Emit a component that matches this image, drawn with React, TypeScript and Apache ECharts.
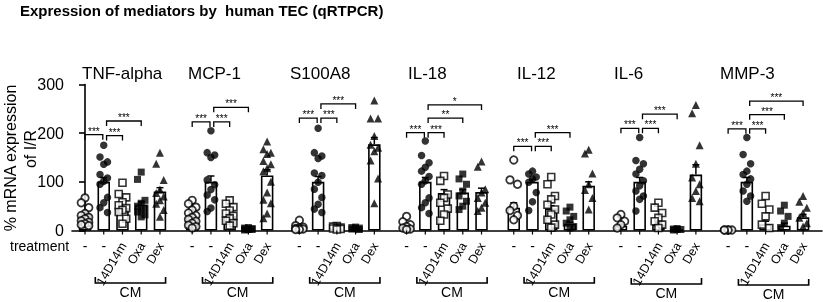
import React, { useEffect, useRef } from "react";
import * as echarts from "echarts";

// ---------- data ----------
const panels = ["TNF-alpha", "MCP-1", "S100A8", "IL-18", "IL-12", "IL-6", "MMP-3"];
const groupLabels = ["-", "-", "14D14m", "Oxa", "Dex"];
const yTickValues = [0, 100, 200, 300];

const meanTNF = [31, 100, 46, 53, 80];
const semTNF = [5, 9, 5, 6, 8];
const ptsTNF = [
  [67, 57, 47, 35, 31, 27, 24, 20, 17, 14, 12, 10],
  [175, 151, 141, 136, 115, 108, 101, 95, 68, 57, 47, 37],
  [98, 75, 68, 58, 52, 46, 42, 38, 24, 14],
  [120, 105, 62, 56, 50, 46, 42, 38, 32, 28],
  [160, 137, 104, 84, 77, 70, 62, 55, 42, 28],
];
const sigTNF = [[0, 1, 197, 3], [1, 2, 195, 3], [1, 3, 225, 3]];

const meanMCP1 = [30, 100, 30, 3, 113];
const semMCP1 = [4, 12, 4, 0.5, 12];
const ptsMCP1 = [
  [62, 55, 48, 42, 36, 31, 27, 23, 19, 15, 11, 8, 5],
  [205, 160, 155, 150, 104, 94, 84, 73, 63, 46, 39],
  [62, 55, 48, 41, 35, 30, 25, 20, 15, 10],
  [6, 5, 4, 3, 3, 2, 2, 1],
  [183, 167, 160, 157, 143, 136, 128, 122, 100, 78, 63, 56, 35, 25],
];
const sigMCP1 = [[0, 1, 223, 3], [1, 2, 223, 3], [1, 3, 253, 3]];

const meanS100A8 = [6, 100, 5, 4, 177];
const semS100A8 = [2, 11, 1, 0.5, 14];
const ptsS100A8 = [
  [21, 10, 7, 5, 4, 3, 2, 2],
  [210, 160, 153, 148, 118, 113, 99, 85, 68, 54, 44, 37],
  [9, 8, 6, 5, 4, 3, 2],
  [7, 6, 5, 4, 3, 2],
  [267, 230, 230, 194, 176, 170, 163, 144, 107, 56],
];
const sigS100A8 = [[0, 1, 231, 3], [1, 2, 231, 3], [1, 3, 260, 3]];

const meanIL18 = [8, 100, 77, 78, 79];
const semIL18 = [2, 9, 7, 6, 8];
const ptsIL18 = [
  [29, 18, 12, 8, 5, 3, 2],
  [184, 154, 139, 130, 122, 111, 102, 95, 67, 57, 47, 35],
  [112, 102, 74, 67, 57, 45, 33, 20],
  [116, 106, 95, 81, 71, 60, 50, 43],
  [142, 131, 85, 78, 67, 57, 47, 40],
];
const sigIL18 = [[0, 1, 201, 3], [1, 2, 201, 3], [1, 3, 231, 2], [1, 4, 258, 1]];

const meanIL12 = [47, 100, 45, 14, 92];
const semIL12 = [10, 5, 6, 3, 8];
const ptsIL12 = [
  [145, 104, 95, 50, 41, 31, 22],
  [122, 116, 110, 106, 99, 78, 59, 41],
  [110, 95, 71, 64, 53, 43, 33, 22, 12, 6],
  [48, 40, 29, 22, 15, 8, 5],
  [166, 158, 117, 95, 83, 67, 43],
];
const sigIL12 = [[0, 1, 173, 3], [1, 2, 173, 3], [1, 3, 201, 3]];

const meanIL6 = [10, 100, 12, 2, 115];
const semIL6 = [3, 9, 4, 0.5, 20];
const ptsIL6 = [
  [33, 26, 19, 12, 5],
  [191, 144, 137, 126, 116, 102, 92, 81, 71, 64, 40],
  [57, 47, 36, 26, 19, 12, 5],
  [4, 3, 2, 2, 1],
  [258, 241, 175, 137, 109, 95, 81, 67, 60],
];
const sigIL6 = [[0, 1, 210, 3], [1, 2, 210, 3], [1, 3, 239, 3]];

const meanMMP3 = [1, 100, 13, 10, 27];
const semMMP3 = [0.3, 9, 6, 5, 6];
const ptsMMP3 = [
  [1, 1, 1, 1, 1],
  [191, 156, 137, 122, 115, 106, 95, 81, 71, 60],
  [71, 55, 43, 29, 12, 5],
  [52, 40, 29, 15, 6],
  [71, 59, 47, 36, 26, 15, 8],
];
const sigMMP3 = [[0, 1, 209, 3], [1, 2, 209, 3], [1, 3, 238, 3], [1, 4, 266, 3]];

const panelMeans = [meanTNF, meanMCP1, meanS100A8, meanIL18, meanIL12, meanIL6, meanMMP3];
const panelSems = [semTNF, semMCP1, semS100A8, semIL18, semIL12, semIL6, semMMP3];
const panelPoints = [ptsTNF, ptsMCP1, ptsS100A8, ptsIL18, ptsIL12, ptsIL6, ptsMMP3];
const panelSigs = [sigTNF, sigMCP1, sigS100A8, sigIL18, sigIL12, sigIL6, sigMMP3];

// ---------- layout ----------
const FONT = "'Liberation Sans', Arial, Helvetica, sans-serif";
const PANEL_STEP = 5.72;
const X_MIN = -0.694;
const X_MAX = 39.33;
const JITTER = [0, -0.2, 0.2];
const TITLE_X = [82, 188, 290, 408, 517, 614, 720];
const CM_DROP = [0, 0, 0, 0, 0, 1, 2];
const xPos = (p: number, i: number) => p * PANEL_STEP + i;

const markerStyles: any[] = [
  { symbol: "circle", symbolSize: 7.5, itemStyle: { color: "#fff", borderColor: "#000", borderWidth: 1.8 } },
  { symbol: "circle", symbolSize: 7.5, itemStyle: { color: "#000" } },
  { symbol: "rect", symbolSize: 7, itemStyle: { color: "#fff", borderColor: "#000", borderWidth: 1.6 } },
  { symbol: "rect", symbolSize: 7, itemStyle: { color: "#000" } },
  { symbol: "triangle", symbolSize: 8, itemStyle: { color: "#000" } },
];

export default function App() {
  const ref = useRef<HTMLDivElement>(null);

  useEffect(() => {
    const chart = echarts.init(ref.current!, null, { renderer: "svg" });

    const barData: number[][] = [];
    const errData: number[][] = [];
    const labelData: number[][] = [];
    panels.forEach((_, p) => {
      for (let i = 0; i < 5; i++) {
        const x = xPos(p, i);
        barData.push([x, panelMeans[p][i]]);
        errData.push([x, panelMeans[p][i], panelMeans[p][i] + panelSems[p][i]]);
        labelData.push([x, 0]);
      }
    });

    const sigData: number[][] = [];
    const sigText: string[] = [];
    panels.forEach((_, p) => {
      panelSigs[p].forEach(([a, b, y, n]) => {
        const x1 = xPos(p, a) + (a === 0 ? 0 : 0.15);
        const x2 = xPos(p, b) - (b === 1 ? 0.05 : 0);
        sigData.push([x1, x2, y]);
        sigText.push("*".repeat(n));
      });
    });

    const cmData = panels.map((_, p) => [xPos(p, 1) - 0.45, xPos(p, 4) + 0.3]);

    const scatterSeries = markerStyles.map((ms, g) => ({
      type: "scatter",
      z: 4,
      silent: true,
      symbol: ms.symbol,
      symbolSize: ms.symbolSize,
      itemStyle: ms.itemStyle,
      data: panels.flatMap((_, p) =>
        panelPoints[p][g].map((v, k) => [xPos(p, g) + JITTER[k % JITTER.length], v])
      ),
    }));

    const option: any = {
      animation: false,
      textStyle: { fontFamily: FONT },
      grid: { left: 72, right: 1, top: 84.5, bottom: 71.5, containLabel: false },
      xAxis: {
        type: "value",
        min: X_MIN,
        max: X_MAX,
        axisLine: { show: true, onZero: true, lineStyle: { color: "#000", width: 1.6 } },
        axisTick: { show: false },
        axisLabel: { show: false },
        splitLine: { show: false },
      },
      yAxis: {
        type: "value",
        min: yTickValues[0],
        max: yTickValues[yTickValues.length - 1],
        interval: 100,
        axisLine: { show: true, lineStyle: { color: "#000", width: 1.6 } },
        axisTick: { show: true, length: 6, lineStyle: { color: "#000", width: 1.6 } },
        axisLabel: { color: "#000", fontSize: 16, fontFamily: FONT, margin: 8 },
        splitLine: { show: false },
      },
      series: [
        {
          type: "bar",
          z: 2,
          silent: true,
          barWidth: 12.5,
          data: barData,
          itemStyle: { color: "#fff", borderColor: "#000", borderWidth: 1.6 },
        },
        {
          type: "custom",
          z: 3,
          silent: true,
          data: errData,
          renderItem: (params: any, api: any) => {
            const x = api.value(0);
            const base = api.coord([x, api.value(1)]);
            const top = api.coord([x, api.value(2)]);
            return {
              type: "group",
              children: [
                { type: "line", shape: { x1: top[0], y1: base[1], x2: top[0], y2: top[1] }, style: { stroke: "#000", lineWidth: 1.5 } },
                { type: "line", shape: { x1: top[0] - 3.5, y1: top[1], x2: top[0] + 3.5, y2: top[1] }, style: { stroke: "#000", lineWidth: 1.5 } },
              ],
            };
          },
        },
        ...scatterSeries,
        {
          type: "custom",
          z: 5,
          silent: true,
          data: sigData,
          renderItem: (params: any, api: any) => {
            const p1 = api.coord([api.value(0), api.value(2)]);
            const p2 = api.coord([api.value(1), api.value(2)]);
            return {
              type: "group",
              children: [
                {
                  type: "polyline",
                  shape: { points: [[p1[0], p1[1] + 5], [p1[0], p1[1]], [p2[0], p1[1]], [p2[0], p1[1] + 5]] },
                  style: { stroke: "#000", lineWidth: 1.3, fill: null },
                },
                {
                  type: "text",
                  x: (p1[0] + p2[0]) / 2,
                  y: p1[1] + 1.5,
                  style: { text: sigText[params.dataIndex], fontSize: 10, fontFamily: FONT, fill: "#000", align: "center", verticalAlign: "bottom" },
                },
              ],
            };
          },
        },
        {
          type: "custom",
          z: 5,
          silent: true,
          data: labelData,
          renderItem: (params: any, api: any) => {
            const p = api.coord([api.value(0), 0]);
            const gi = params.dataIndex % 5;
            const children: any[] = [
              { type: "line", shape: { x1: p[0], y1: p[1], x2: p[0], y2: p[1] + 4 }, style: { stroke: "#000", lineWidth: 1.2 } },
            ];
            if (gi < 2) {
              children.push({
                type: "text",
                x: p[0],
                y: p[1] + 15,
                style: { text: groupLabels[gi], fontSize: 14, fontFamily: FONT, fill: "#000", align: "center", verticalAlign: "middle" },
              });
            } else {
              children.push({
                type: "text",
                x: p[0] + 1,
                y: p[1] + 13,
                rotation: Math.PI / 3,
                style: { text: groupLabels[gi], fontSize: 12.5, fontFamily: FONT, fill: "#000", align: "right", verticalAlign: "middle" },
              });
            }
            return { type: "group", children };
          },
        },
        {
          type: "custom",
          z: 5,
          silent: true,
          data: cmData,
          renderItem: (params: any, api: any) => {
            const p1 = api.coord([api.value(0), 0]);
            const p2 = api.coord([api.value(1), 0]);
            const yl = p1[1] + 52.5 + CM_DROP[params.dataIndex];
            return {
              type: "group",
              children: [
                {
                  type: "polyline",
                  shape: { points: [[p1[0], yl - 6], [p1[0], yl], [p2[0], yl], [p2[0], yl - 6]] },
                  style: { stroke: "#000", lineWidth: 1.6, fill: null },
                },
                {
                  type: "text",
                  x: (p1[0] + p2[0]) / 2,
                  y: yl + 9,
                  style: { text: "CM", fontSize: 14, fontFamily: FONT, fill: "#000", align: "center", verticalAlign: "middle" },
                },
              ],
            };
          },
        },
      ],
      graphic: [
        {
          type: "text",
          x: 20,
          y: 10,
          style: { text: "Expression of mediators by  human TEC (qRTPCR)", fontSize: 15, fontWeight: "bold", fontFamily: FONT, fill: "#000", align: "left", verticalAlign: "middle" },
        },
        {
          type: "text",
          x: 10,
          y: 158,
          rotation: Math.PI / 2,
          style: { text: "% mRNA expression", fontSize: 16, fontFamily: FONT, fill: "#000", align: "center", verticalAlign: "middle" },
        },
        {
          type: "text",
          x: 30,
          y: 149,
          rotation: Math.PI / 2,
          style: { text: "of I/R", fontSize: 16, fontFamily: FONT, fill: "#000", align: "center", verticalAlign: "middle" },
        },
        {
          type: "text",
          x: 10,
          y: 246,
          style: { text: "treatment", fontSize: 14, fontFamily: FONT, fill: "#000", align: "left", verticalAlign: "middle" },
        },
        ...panels.map((name, p) => ({
          type: "text",
          x: TITLE_X[p],
          y: 73,
          style: { text: name, fontSize: 17, fontFamily: FONT, fill: "#000", align: "left", verticalAlign: "middle" },
        })),
      ],
    };

    chart.setOption(option);
    return () => chart.dispose();
  }, []);

  return <div ref={ref} style={{ position: "fixed", left: 0, top: 0, width: 823, height: 302 }} />;
}
